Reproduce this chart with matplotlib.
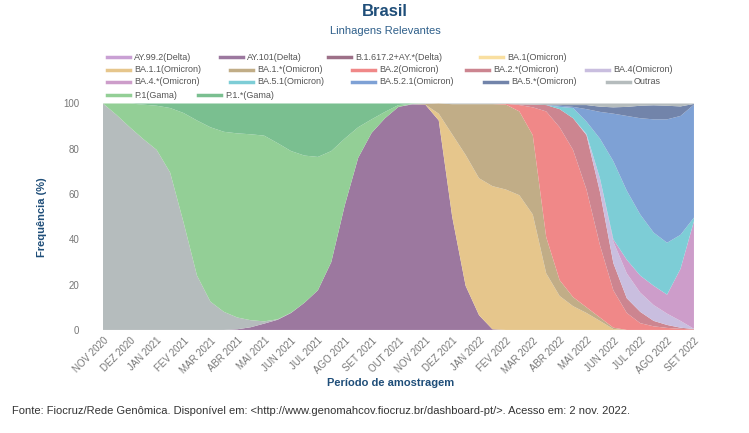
import matplotlib
matplotlib.use("Agg")
import matplotlib.pyplot as plt
from matplotlib.lines import Line2D
import numpy as np

plt.rcParams["font.family"] = ["Liberation Sans", "DejaVu Sans"]

# sample points, in months after NOV 2020 (every half month)
t = np.arange(45) / 2

month_labels = ["NOV 2020", "DEZ 2020", "JAN 2021", "FEV 2021", "MAR 2021", "ABR 2021",
                "MAI 2021", "JUN 2021", "JUL 2021", "AGO 2021", "SET 2021", "OUT 2021",
                "NOV 2021", "DEZ 2021", "JAN 2022", "FEV 2022", "MAR 2022", "ABR 2022",
                "MAI 2022", "JUN 2022", "JUL 2022", "AGO 2022", "SET 2022"]

# frequencies (%), one value per half month
ay_99_2 = [0] * 45
ay_101 = [0, 0, 0, 0, 0, 0, 0, 0, 0, 0, 0.3, 1.2, 2.8, 4.5, 7.5, 12, 17.5, 30, 55, 76,
          87, 93.5, 98.5, 99.6, 99.5, 92.5, 50, 19.5, 6.5, 0.3, 0, 0, 0, 0, 0, 0, 0, 0,
          0, 0, 0, 0, 0, 0, 0]
b_1_617 = [0] * 45
ba_1 = [0] * 45
ba_1_1 = [0] * 25 + [3, 36.4, 57.8, 60.5, 63.2, 62, 59.5, 51, 25, 15, 10.5, 7.5, 4, 0.4,
                     0, 0, 0, 0, 0, 0]
ba_1_x = [0] * 24 + [0.3, 4.5, 13.3, 22.4, 32.7, 36.2, 37.5, 37, 35, 16, 7, 4, 2.5, 1.5,
                     0.6, 0, 0, 0, 0, 0, 0]
ba_2 = [0] * 30 + [0.3, 2.8, 12.3, 55.5, 67.5, 65, 52, 32, 16.5, 7.5, 3, 1.6, 0.9, 0.5, 0.2]
ba_2_x = [0] * 31 + [0.3, 1.2, 2.8, 8, 14, 24, 23.5, 12, 6.5, 5, 2.4, 1.3, 0.5, 0.2]
ba_4 = [0] * 36 + [0.5, 6, 9.5, 11, 8.5, 7, 5, 3, 0.1]
ba_4_x = [0] * 38 + [1, 6, 7.5, 8.5, 8.4, 23, 47.5]
ba_5_1 = [0] * 34 + [1, 4.5, 5.5, 17.5, 34.5, 30.5, 27, 23.5, 22.9, 15, 1.6]
ba_5_2_1 = [0] * 34 + [0.5, 0.5, 5.5, 11.8, 21, 33, 42.5, 50, 54.5, 52.5, 49.9]
ba_5_x = [0] * 34 + [0.3, 0.8, 1.8, 2.3, 2.8, 4, 5.5, 6.2, 6, 4.2, 0.3]
outras = [100, 95, 89.5, 84.3, 79.5, 69.5, 47.5, 24, 12.5, 8, 5.2, 3.1, 1.0, 0.2, 0.1, 0,
          0, 0, 0, 0, 0, 0, 0, 0.2, 0.2, 0, 0.3, 0.3, 0.3, 0.3, 0.2, 0.4, 0.5, 0.7, 0.7,
          0.7, 0.7, 1.4, 1.7, 1.5, 1, 0.8, 1, 1.3, 0.2]
p_1 = [0, 5, 10.5, 15.2, 19.5, 28.5, 48.3, 68.5, 77, 79.5, 81.3, 82.1, 82, 77.8, 71.4, 65,
       58.9, 49, 29.5, 13.5, 6, 2.8, 0.8, 0.1] + [0] * 21
p_1_x = [0, 0, 0, 0.5, 1, 2, 4.2, 7.5, 10.5, 12.5, 13.2, 13.6, 14.2, 17.5, 21, 23, 23.6,
         21, 15.5, 10.5, 7, 3.7, 0.7, 0.1] + [0] * 21

names = ["AY.99.2(Delta)", "AY.101(Delta)", "B.1.617.2+AY.*(Delta)", "BA.1(Omicron)",
         "BA.1.1(Omicron)", "BA.1.*(Omicron)", "BA.2(Omicron)", "BA.2.*(Omicron)",
         "BA.4(Omicron)", "BA.4.*(Omicron)", "BA.5.1(Omicron)", "BA.5.2.1(Omicron)",
         "BA.5.*(Omicron)", "Outras", "P.1(Gama)", "P.1.*(Gama)"]
series = [ay_99_2, ay_101, b_1_617, ba_1, ba_1_1, ba_1_x, ba_2, ba_2_x, ba_4, ba_4_x,
          ba_5_1, ba_5_2_1, ba_5_x, outras, p_1, p_1_x]
colors = ["#c9a0d4", "#9c789f", "#9d7088", "#f9dfa0", "#e6c68c", "#c1ad87", "#f08888",
          "#cc8590", "#c9bedf", "#cd9dca", "#7dcdd6", "#7ea1d5", "#7284aa", "#b5bcbd",
          "#93cf96", "#7abf90"]

fig = plt.figure(figsize=(7.49, 4.33), dpi=100)
ax = fig.add_axes([0.1375, 0.238, 0.789, 0.523])
ax.stackplot(t, *series, colors=colors, linewidth=0)
ax.set_xlim(0, 22)
ax.set_ylim(0, 100)

ax.set_xticks(range(len(month_labels)))
ax.set_xticklabels(month_labels, rotation=45, ha="right", rotation_mode="anchor",
                   fontsize=7, color="#777777")
ax.set_yticks([0, 20, 40, 60, 80, 100])
ax.tick_params(axis="x", length=0, pad=4, labelsize=7, labelcolor="#777777")
ax.tick_params(axis="y", length=0, pad=17, labelsize=7, labelcolor="#777777")
for s in ax.spines.values():
    s.set_visible(False)

ax.set_ylabel("Frequência (%)", fontsize=8, fontweight="bold", color="#1f4e79", labelpad=12)
ax.set_xlabel("Período de amostragem", fontsize=8, fontweight="bold", color="#1f4e79",
              labelpad=2)
ax.xaxis.label.set_x(0.486)

W, H = 749, 433
fig.text(385 / W, 1 - 12 / H, "Brasil", ha="center", va="center", fontsize=12,
         fontweight="bold", color="#1f4e79")
fig.text(385 / W, 1 - 31 / H, "Linhagens Relevantes", ha="center", va="center",
         fontsize=8, color="#2e5f8a")

# legend laid out in rows like the original
legend_pos = [(107, 57), (220, 57), (328, 57), (480, 57),
              (107, 70), (230, 70), (352, 70), (466, 70), (586, 70),
              (107, 82), (230, 82), (352, 82), (484, 82), (607, 82),
              (107, 95), (198, 95)]
for (lx, ly), name, c in zip(legend_pos, names, colors):
    fig.add_artist(Line2D([lx / W, (lx + 23) / W], [1 - ly / H, 1 - ly / H],
                          color=c, linewidth=2.5, transform=fig.transFigure))
    fig.text((lx + 27) / W, 1 - ly / H, name, ha="left", va="center", fontsize=6.5,
             color="#555555")

fig.text(12 / W, 1 - 411 / H,
         "Fonte: Fiocruz/Rede Genômica. Disponível em: <http://www.genomahcov.fiocruz.br/"
         "dashboard-pt/>. Acesso em: 2 nov. 2022.",
         ha="left", va="center", fontsize=8, color="#333333")

fig.savefig("out.png", dpi=100)
